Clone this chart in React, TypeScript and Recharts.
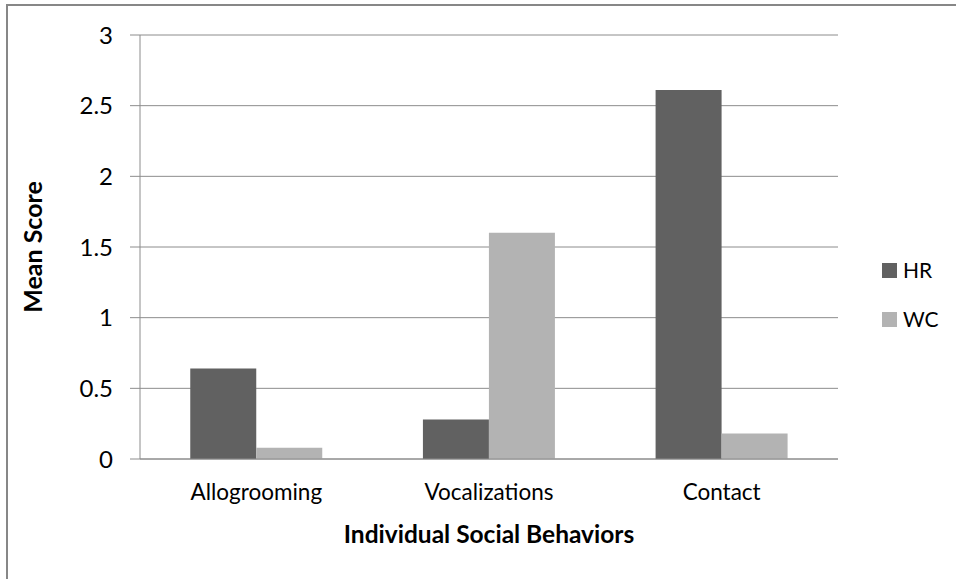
import React from 'react';
import { BarChart, Bar, XAxis, YAxis, CartesianGrid, Legend, Label } from 'recharts';

const categories = ['Allogrooming', 'Vocalizations', 'Contact'];
const hrValues = [0.64, 0.28, 2.61];
const wcValues = [0.08, 1.6, 0.18];
const yTicks = [0, 0.5, 1, 1.5, 2, 2.5, 3];
const seriesNames = ['HR', 'WC'];
const seriesColors = ['#616161', '#b3b3b3'];

const data = categories.map((c, i) => ({ name: c, HR: hrValues[i], WC: wcValues[i] }));

const FONT = 'Lato, "Open Sans", sans-serif';
const GRID = '#8c8c8c';

const LegendContent = (props: any) => {
  const payload = props.payload || [];
  return (
    <div style={{ fontFamily: FONT }}>
      {payload.map((p: any, i: number) => (
        <div
          key={i}
          style={{ display: 'flex', alignItems: 'center', height: 24, marginBottom: i === 0 ? 25 : 0 }}
        >
          <span style={{ width: 15, height: 15, background: p.color, display: 'inline-block', marginRight: 6 }} />
          <span style={{ fontSize: 21, color: '#000', lineHeight: '24px' }}>{p.value}</span>
        </div>
      ))}
    </div>
  );
};

export default function App() {
  return (
    <div
      style={{
        position: 'absolute',
        left: 0,
        top: 0,
        width: 956,
        height: 579,
        background: '#fff',
        overflow: 'hidden',
        fontFamily: FONT,
      }}
    >
      <div
        style={{
          position: 'absolute',
          left: 6,
          top: 4,
          width: 1000,
          height: 700,
          borderTop: '2px solid #878787',
          borderLeft: '2px solid #878787',
        }}
      />
      <BarChart
        width={956}
        height={579}
        data={data}
        margin={{ top: 35, right: 118, bottom: 0, left: 0 }}
        barCategoryGap="21.6%"
        barGap={0}
        style={{ fontFamily: FONT }}
      >
        <CartesianGrid vertical={false} stroke={GRID} />
        <XAxis
          dataKey="name"
          height={120}
          tickLine={false}
          tickSize={0}
          tickMargin={25}
          axisLine={{ stroke: GRID }}
          tick={{ fill: '#000', fontSize: 22.5 }}
        >
          <Label
            value="Individual Social Behaviors"
            position="insideBottom"
            offset={36}
            style={{ fontWeight: 'bold', fontSize: 24.5, fill: '#000' }}
          />
        </XAxis>
        <YAxis
          width={140}
          domain={[0, 3]}
          ticks={yTicks}
          tickSize={10}
          tickMargin={17}
          axisLine={{ stroke: GRID }}
          tickLine={{ stroke: GRID }}
          tick={{ fill: '#000', fontSize: 24 }}
        >
          <Label
            value="Mean Score"
            angle={-90}
            position="insideLeft"
            offset={33}
            style={{ fontWeight: 'bold', fontSize: 25, fill: '#000', textAnchor: 'middle' }}
          />
        </YAxis>
        <Legend
          layout="vertical"
          align="center"
          verticalAlign="middle"
          width={80}
          wrapperStyle={{ left: 882, top: 258, width: 80 }}
          content={<LegendContent />}
        />
        <Bar dataKey={seriesNames[0]} name={seriesNames[0]} fill={seriesColors[0]} isAnimationActive={false} />
        <Bar dataKey={seriesNames[1]} name={seriesNames[1]} fill={seriesColors[1]} isAnimationActive={false} />
      </BarChart>
    </div>
  );
}
